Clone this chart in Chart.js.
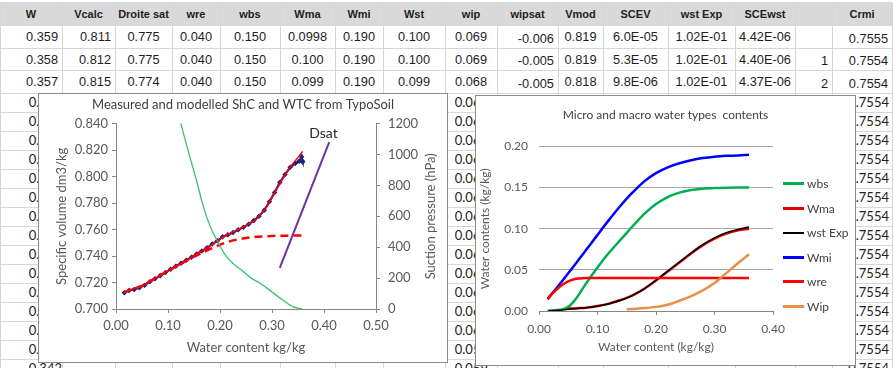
<!DOCTYPE html>
<html>
<head>
<meta charset="utf-8">
<script src="https://cdn.jsdelivr.net/npm/chart.js@4.4.1/dist/chart.umd.min.js"></script>
<style>
    body { margin: 0; background: #fff; width: 894px; height: 368px; overflow: hidden; position: relative; font-family: "Liberation Sans", Arial, sans-serif; }
    .vl { position: absolute; top: 2px; height: 366px; width: 1px; background: #d6d6d6; }
    .hl { position: absolute; left: 0; width: 892px; height: 1px; background: #d6d6d6; }
    .hd { position: absolute; left: 0; top: 2px; width: 892px; height: 23px; background: #d9d9d9; }
    .cell { position: absolute; display: flex; box-sizing: border-box; white-space: nowrap; color: #1e1e1e; font-size: 12.8px; }
    .head { font-size: 11px; font-weight: bold; color: #222; }
    .low { font-family: Lato, sans-serif; font-size: 13px; color: #222; }
    .box { position: absolute; background: #fff; border: 1px solid #8c8c8c; box-sizing: border-box; }
    .box canvas { position: absolute; left: 0; top: 0; }
    .lg { position: absolute; left: 307px; font-family: Lato, sans-serif; font-size: 12px; color: #404040; display: flex; align-items: center; }
    .lg span { display: inline-block; width: 21px; margin-right: 3px; }
</style>
</head>
<body>

<div id="sheet"></div>

<div class="box" id="box1" style="left:38px; top:93px; width:410px; height:270px;">
    <canvas id="shcChart" width="408" height="268"></canvas>
</div>

<div class="box" id="box2" style="left:475px; top:95px; width:381px; height:271px;">
    <canvas id="typesChart" width="379" height="269"></canvas>
    <div id="legend2"></div>
</div>

<script>
// ===== SPREADSHEET BACKGROUND =====
const colEdges = [0, 62, 115, 172, 220, 280, 335, 383, 445, 497, 558, 603, 668, 735, 795, 832, 892];
const headers = ["W", "Vcalc", "Droite sat", "wre", "wbs", "Wma", "Wmi", "Wst", "wip", "wipsat", "Vmod", "SCEV", "wst Exp", "SCEwst", "", "Crmi"];
const topRows = [
    ["0.359", "0.811", "0.775", "0.040", "0.150", "0.0998", "0.190", "0.100", "0.069", "-0.006", "0.819", "6.0E-05", "1.02E-01", "4.42E-06", "", "0.7555"],
    ["0.358", "0.812", "0.775", "0.040", "0.150", "0.100", "0.190", "0.100", "0.069", "-0.005", "0.819", "5.3E-05", "1.02E-01", "4.40E-06", "1", "0.7554"],
    ["0.357", "0.815", "0.774", "0.040", "0.150", "0.099", "0.190", "0.099", "0.068", "-0.005", "0.818", "9.8E-06", "1.02E-01", "4.37E-06", "2", "0.7554"]
];
const cellAlign = ["r", "r", "c", "c", "c", "c", "c", "c", "c", "rb", "c", "c", "c", "c", "rb", "rb"];
const topRowEdges = [25, 48, 70, 93];
const lowW = ["0.356", "0.355", "0.354", "0.353", "0.352", "0.351", "0.350", "0.349", "0.348", "0.347", "0.346", "0.345", "0.344", "0.343", "0.342"];
const lowWip = ["0.068", "0.067", "0.067", "0.066", "0.065", "0.065", "0.064", "0.063", "0.063", "0.062", "0.061", "0.061", "0.060", "0.059", "0.059"];
const lowCrmi = "0.7554";

const sheet = document.getElementById("sheet");

function addCell(text, col, top, h, align, cls, padR) {
    const d = document.createElement("div");
    d.className = "cell " + (cls || "");
    d.style.left = colEdges[col] + "px";
    d.style.width = (colEdges[col + 1] - colEdges[col]) + "px";
    d.style.top = top + "px";
    d.style.height = h + "px";
    d.style.justifyContent = align[0] === "r" ? "flex-end" : "center";
    d.style.alignItems = align.includes("b") ? "flex-end" : "center";
    d.style.paddingRight = align[0] === "r" ? (padR === undefined ? 4 : padR) + "px" : "0";
    d.style.paddingBottom = align.includes("b") ? "2px" : "0";
    d.innerText = text;
    sheet.appendChild(d);
}

const hd = document.createElement("div");
hd.className = "hd";
sheet.appendChild(hd);

colEdges.forEach(x => {
    const v = document.createElement("div");
    v.className = "vl";
    v.style.left = x + "px";
    sheet.appendChild(v);
});

let rowLines = topRowEdges.slice();
for (let y = 112; y < 368; y += 19) rowLines.push(y);
rowLines.forEach(y => {
    const h = document.createElement("div");
    h.className = "hl";
    h.style.top = y + "px";
    sheet.appendChild(h);
});

headers.forEach((t, i) => addCell(t, i, 2, 23, "c", "head"));

topRows.forEach((row, r) => {
    const top = topRowEdges[r];
    const h = topRowEdges[r + 1] - top;
    row.forEach((t, i) => addCell(t, i, top, h, cellAlign[i]));
});

lowW.forEach((t, r) => {
    const top = 93 + r * 19;
    addCell(t, 0, top, 19, "rb", "low", 0);
    addCell(lowWip[r], 8, top, 19, "rb", "low", 9);
    addCell(lowCrmi, 15, top, 19, "rb", "low", 3);
});

// ===== CHART 1 DATA =====
const measW = [0.016, 0.025, 0.035, 0.045, 0.055, 0.065, 0.075, 0.085, 0.095, 0.105, 0.115, 0.125, 0.135, 0.145, 0.155, 0.165, 0.175, 0.185, 0.195, 0.205, 0.215, 0.225, 0.235, 0.245, 0.255, 0.265, 0.275, 0.285, 0.295, 0.305, 0.315, 0.325, 0.335, 0.345, 0.352, 0.357, 0.358, 0.359];
const measV = [0.7122, 0.7140, 0.7148, 0.7160, 0.7180, 0.7205, 0.7228, 0.7252, 0.7275, 0.7300, 0.7322, 0.7345, 0.7368, 0.7390, 0.7415, 0.7438, 0.7462, 0.7490, 0.7515, 0.7545, 0.7560, 0.7578, 0.7598, 0.7618, 0.7640, 0.7668, 0.7700, 0.7745, 0.7810, 0.7880, 0.7955, 0.8015, 0.8070, 0.8100, 0.8115, 0.815, 0.812, 0.811];

const modW = [0.015, 0.03, 0.05, 0.07, 0.09, 0.11, 0.13, 0.15, 0.17, 0.19, 0.21, 0.23, 0.25, 0.27, 0.29, 0.31, 0.33, 0.35, 0.359];
const vmod = [0.7125, 0.7148, 0.7175, 0.7220, 0.7265, 0.7310, 0.7355, 0.7405, 0.7450, 0.7500, 0.7553, 0.7590, 0.7630, 0.7680, 0.7775, 0.7910, 0.8045, 0.8145, 0.8190];
const crmi = [0.7125, 0.7148, 0.7175, 0.7220, 0.7265, 0.7310, 0.7352, 0.7395, 0.7432, 0.7468, 0.7500, 0.7522, 0.7536, 0.7545, 0.7550, 0.7553, 0.7554, 0.7555, 0.7555];

const dsatW = [0.315, 0.41];
const dsatV = [0.731, 0.826];
const dsatLabel = { x: 0.399, y: 0.8323, text: "Dsat" };

const sucW = [0.118, 0.125, 0.135, 0.145, 0.155, 0.165, 0.175, 0.185, 0.197, 0.21, 0.225, 0.24, 0.26, 0.28, 0.30, 0.32, 0.34, 0.358];
const sucP = [1300, 1200, 1070, 950, 830, 700, 590, 505, 429, 350, 295, 255, 200, 160, 110, 60, 15, 0];

// ===== CHART 2 DATA =====
const w2 = [0.015, 0.02, 0.03, 0.04, 0.05, 0.06, 0.07, 0.08, 0.10, 0.12, 0.14, 0.15, 0.16, 0.18, 0.20, 0.22, 0.24, 0.26, 0.28, 0.30, 0.32, 0.34, 0.359];
const wbs = [0, 0.0005, 0.001, 0.002, 0.005, 0.012, 0.022, 0.033, 0.053, 0.071, 0.087, 0.095, 0.103, 0.118, 0.130, 0.1385, 0.1438, 0.147, 0.1486, 0.1494, 0.1498, 0.150, 0.150];
const wma = [null, null, null, null, 0.003, 0.003, 0.0035, 0.004, 0.006, 0.009, 0.0135, 0.016, 0.019, 0.027, 0.037, 0.048, 0.059, 0.070, 0.080, 0.088, 0.094, 0.098, 0.100];
const wstExp = [0, 0.0003, 0.0008, 0.0013, 0.002, 0.0027, 0.0034, 0.004, 0.0058, 0.0088, 0.013, 0.0158, 0.019, 0.027, 0.0375, 0.0485, 0.0595, 0.0705, 0.0805, 0.0888, 0.095, 0.099, 0.102];
const wmi = [0.015, 0.0193, 0.028, 0.0368, 0.0458, 0.055, 0.0643, 0.0737, 0.0925, 0.111, 0.1285, 0.1365, 0.144, 0.1575, 0.1675, 0.1745, 0.1795, 0.1832, 0.1858, 0.1875, 0.1885, 0.189, 0.190];
const wre = [0.014, 0.019, 0.026, 0.032, 0.036, 0.0385, 0.0395, 0.040, 0.040, 0.040, 0.040, 0.040, 0.040, 0.040, 0.040, 0.040, 0.040, 0.040, 0.040, 0.040, 0.040, 0.040, 0.040];
const wip = [null, null, null, null, null, null, null, null, null, null, null, 0.002, 0.0025, 0.0035, 0.005, 0.0075, 0.0125, 0.018, 0.025, 0.034, 0.046, 0.058, 0.069];

const series2 = [
    { label: "wbs", data: wbs, color: "#00b050", width: 2.5 },
    { label: "Wma", data: wma, color: "#e00000", width: 2.5 },
    { label: "wst Exp", data: wstExp, color: "#000000", width: 1.5 },
    { label: "Wmi", data: wmi, color: "#0000ff", width: 2.5 },
    { label: "wre", data: wre, color: "#ff0000", width: 2.5 },
    { label: "Wip", data: wip, color: "#e8904a", width: 2.5 }
];

const pts = (xs, ys) => xs.map((x, i) => ({ x, y: ys[i] }));

Chart.defaults.font.family = "Lato, 'Open Sans', sans-serif";
Chart.defaults.animation = false;
Chart.defaults.events = [];

const axisGrey = "#868686";
const labelGrey = "#595959";

// ===== CHART 1 =====
const shcExtras = {
    id: "shcExtras",
    afterDraw(chart) {
        const { ctx, scales } = chart;
        ctx.save();
        ctx.fillStyle = "#262626";
        ctx.font = "14px Lato";
        ctx.textAlign = "center";
        ctx.textBaseline = "middle";
        ctx.fillText(dsatLabel.text, scales.x.getPixelForValue(dsatLabel.x), scales.y.getPixelForValue(dsatLabel.y));
        const y2 = scales.y2;
        ctx.fillStyle = labelGrey;
        ctx.font = "13px Lato";
        ctx.translate(y2.right - 16, (y2.top + y2.bottom) / 2);
        ctx.rotate(-Math.PI / 2);
        ctx.fillText("Suction pressure (hPa)", 0, 0);
        ctx.restore();
    }
};

new Chart(document.getElementById("shcChart"), {
    type: "line",
    data: {
        datasets: [
            { label: "Dsat", data: pts(dsatW, dsatV), borderColor: "#7030a0", borderWidth: 2, pointRadius: 0, order: 0 },
            { label: "Suction", data: pts(sucW, sucP), yAxisID: "y2", borderColor: "#3cc070", borderWidth: 1.3, pointRadius: 0, cubicInterpolationMode: "monotone", order: 0 },
            { label: "Vmod", data: pts(modW, vmod), borderColor: "#ff0000", borderWidth: 1.5, pointRadius: 0, cubicInterpolationMode: "monotone", order: 1 },
            { label: "Crmi", data: pts(modW, crmi), borderColor: "#ff0000", borderWidth: 2.5, borderDash: [8, 5], pointRadius: 0, cubicInterpolationMode: "monotone", order: 1 },
            { label: "Vcalc", data: pts(measW, measV), borderColor: "#1f1f80", backgroundColor: "#1f1f80", borderWidth: 2.2, pointRadius: 1.2, pointStyle: "rectRot", order: 2 }
        ]
    },
    options: {
        responsive: false,
        devicePixelRatio: 1,
        layout: { padding: 0 },
        plugins: {
            legend: { display: false },
            tooltip: { enabled: false },
            title: {
                display: true,
                text: "Measured and modelled ShC and WTC from TypoSoil",
                color: "#404040",
                font: { size: 13, weight: "normal", lineHeight: 1.2 },
                padding: { top: 3, bottom: 11 }
            }
        },
        scales: {
            x: {
                type: "linear", min: 0, max: 0.5,
                ticks: { stepSize: 0.1, color: labelGrey, font: { size: 13 }, padding: 5, callback: v => v.toFixed(2) },
                grid: { drawOnChartArea: false, drawTicks: true, tickLength: 4, color: axisGrey },
                border: { color: axisGrey },
                title: { display: true, text: "Water content kg/kg", color: labelGrey, font: { size: 13, lineHeight: 1.2 }, padding: { bottom: 6 } },
                afterFit: s => { s.height = 53; }
            },
            y: {
                position: "left", min: 0.7, max: 0.84,
                ticks: { stepSize: 0.02, color: labelGrey, font: { size: 13 }, padding: 4, callback: v => v.toFixed(3) },
                grid: { drawOnChartArea: false, drawTicks: true, tickLength: 4, color: axisGrey },
                border: { color: axisGrey },
                title: { display: true, text: "Specific volume dm3/kg", color: labelGrey, font: { size: 13, lineHeight: 1.2 }, padding: { top: 15 } },
                afterFit: s => { s.width = 77; }
            },
            y2: {
                position: "right", min: 0, max: 1200,
                ticks: { stepSize: 200, color: labelGrey, font: { size: 13 }, padding: 8, callback: v => String(v) },
                grid: { drawOnChartArea: false, drawTicks: true, tickLength: 4, color: axisGrey },
                border: { color: axisGrey },
                afterFit: s => { s.width = 71; }
            }
        }
    },
    plugins: [shcExtras]
});

// ===== CHART 2 =====
const typesChart = new Chart(document.getElementById("typesChart"), {
    type: "line",
    data: {
        datasets: series2.map((s, i) => ({
            label: s.label,
            data: pts(w2, s.data),
            borderColor: s.color,
            borderWidth: s.width,
            pointRadius: 0,
            cubicInterpolationMode: "monotone",
            order: series2.length - i
        }))
    },
    options: {
        responsive: false,
        devicePixelRatio: 1,
        layout: { padding: 0 },
        plugins: {
            legend: { display: false },
            tooltip: { enabled: false },
            title: {
                display: true,
                text: "Micro and macro water types  contents",
                color: "#404040",
                font: { size: 12, weight: "normal", lineHeight: 1.2 },
                padding: { top: 12, bottom: 24 }
            }
        },
        scales: {
            x: {
                type: "linear", min: 0, max: 0.4,
                ticks: { stepSize: 0.1, color: labelGrey, font: { size: 12 }, padding: 7, callback: v => v.toFixed(2) },
                grid: { drawOnChartArea: false, drawTicks: true, tickLength: 4, color: axisGrey },
                border: { color: axisGrey },
                title: { display: true, text: "Water content (kg/kg)", color: labelGrey, font: { size: 12, lineHeight: 1.2 }, padding: { bottom: 11 } },
                afterFit: s => { s.height = 54; }
            },
            y: {
                min: 0, max: 0.2,
                ticks: { stepSize: 0.05, color: labelGrey, font: { size: 12 }, padding: 11, callback: v => v.toFixed(2) },
                grid: { color: "#a6a6a6", drawTicks: false },
                border: { display: false },
                title: { display: true, text: "Water contents (kg/kg)", color: labelGrey, font: { size: 12, lineHeight: 1.2 }, padding: { top: 2 } },
                afterFit: s => { s.width = 63; }
            },
            // empty right-hand space kept for the legend
            legendSpace: {
                position: "right",
                ticks: { display: false },
                grid: { display: false },
                border: { display: false },
                afterFit: s => { s.width = 82; }
            }
        }
    }
});

// ===== LEGEND 2 =====
const legend2 = document.getElementById("legend2");
typesChart.data.datasets.forEach((ds, i) => {
    const item = document.createElement("div");
    item.className = "lg";
    item.style.top = (80 + i * 24.6) + "px";
    item.innerHTML = `<span style="height:${Math.max(2, Math.round(ds.borderWidth))}px;background:${ds.borderColor}"></span>${ds.label}`;
    legend2.appendChild(item);
});
</script>
</body>
</html>
